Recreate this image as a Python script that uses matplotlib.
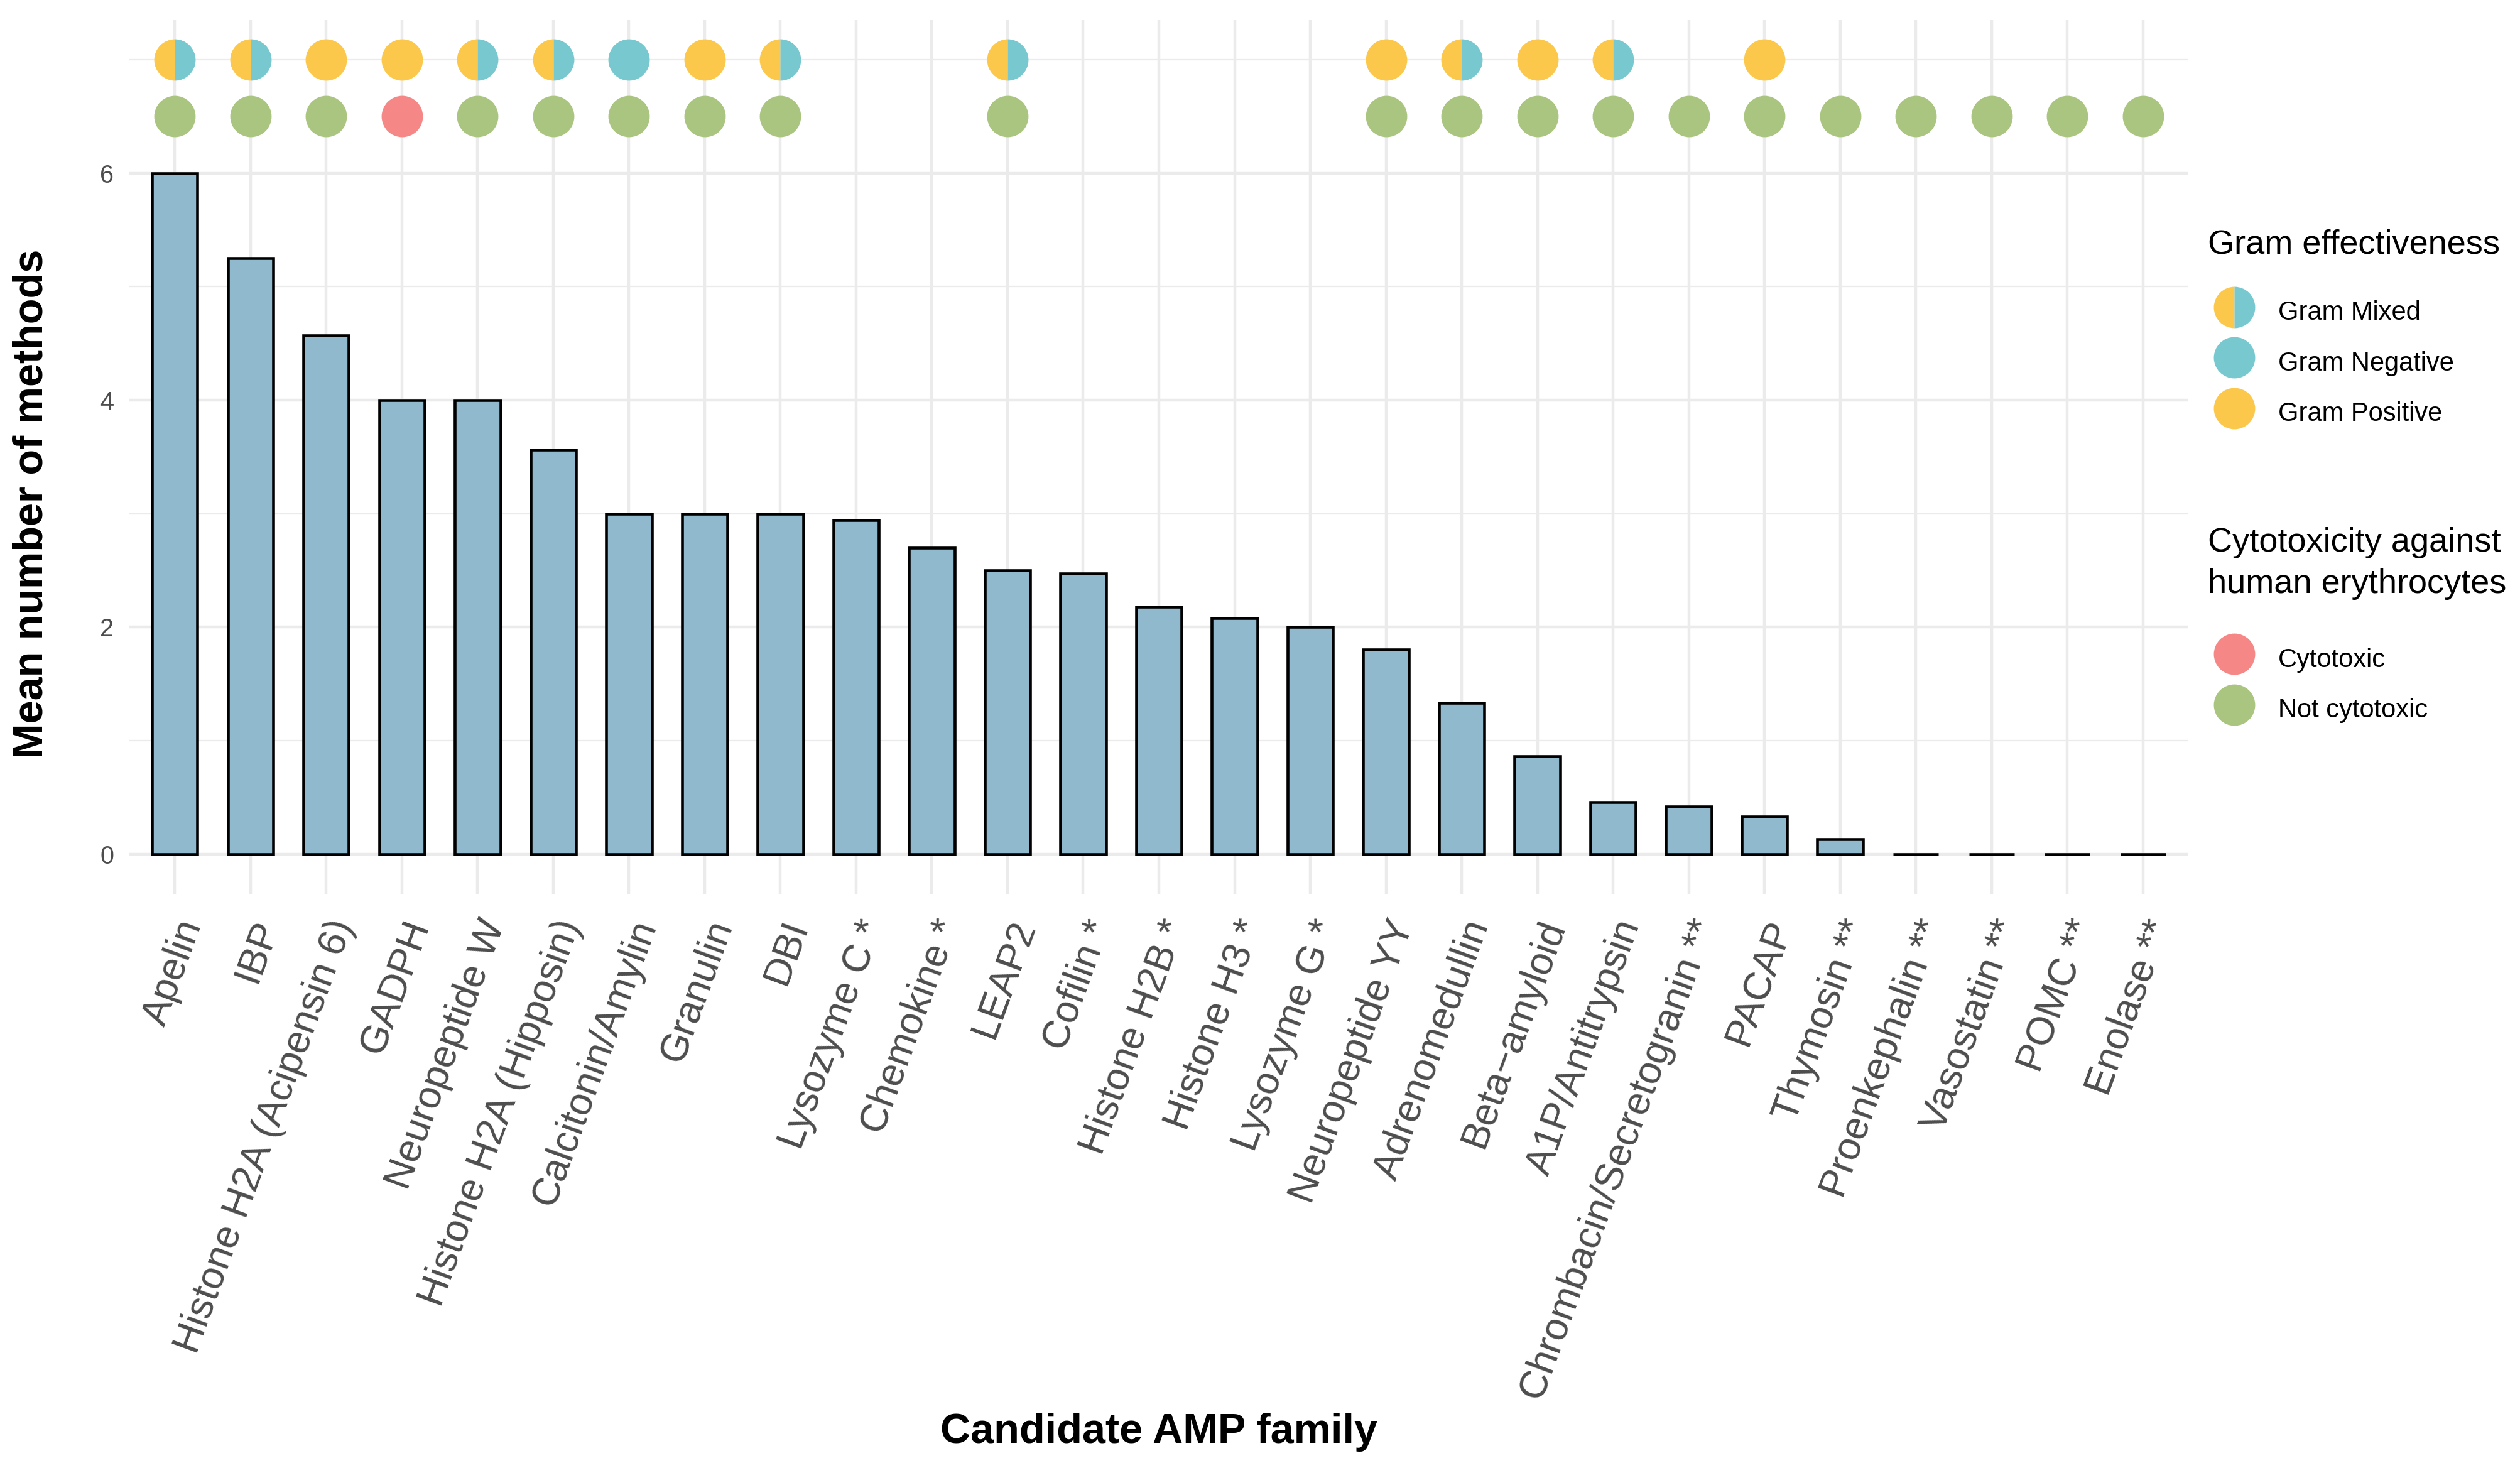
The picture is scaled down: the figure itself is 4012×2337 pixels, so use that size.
import matplotlib
matplotlib.use("Agg")
import matplotlib.pyplot as plt
from matplotlib.lines import Line2D

# candidate AMP families, ordered by mean number of methods
families = [
    "Apelin", "IBP", "Histone H2A (Acipensin 6)", "GADPH", "Neuropeptide W",
    "Histone H2A (Hipposin)", "Calcitonin/Amylin", "Granulin", "DBI",
    "Lysozyme C *", "Chemokine *", "LEAP2", "Cofilin *", "Histone H2B *",
    "Histone H3 *", "Lysozyme G *", "Neuropeptide YY", "Adrenomedullin",
    "Beta\u2212amyloid", "A1P/Antitrypsin", "Chrombacin/Secretogranin **",
    "PACAP", "Thymosin **", "Proenkephalin **", "Vasostatin **", "POMC **",
    "Enolase **",
]
mean_methods = [
    6.0, 5.25, 4.57, 4.0, 4.0, 3.56, 3.0, 3.0, 3.0, 2.94, 2.70, 2.50, 2.47,
    2.18, 2.08, 2.0, 1.80, 1.33, 0.86, 0.46, 0.42, 0.33, 0.13, 0.0, 0.0, 0.0,
    0.0,
]
# "" = no information
gram = [
    "Mixed", "Mixed", "Positive", "Positive", "Mixed", "Mixed", "Negative",
    "Positive", "Mixed", "", "", "Mixed", "", "", "", "", "Positive", "Mixed",
    "Positive", "Mixed", "", "Positive", "", "", "", "", "",
]
cytotox = [
    "Not cytotoxic", "Not cytotoxic", "Not cytotoxic", "Cytotoxic",
    "Not cytotoxic", "Not cytotoxic", "Not cytotoxic", "Not cytotoxic",
    "Not cytotoxic", "", "", "Not cytotoxic", "", "", "", "",
    "Not cytotoxic", "Not cytotoxic", "Not cytotoxic", "Not cytotoxic",
    "Not cytotoxic", "Not cytotoxic", "Not cytotoxic", "Not cytotoxic",
    "Not cytotoxic", "Not cytotoxic", "Not cytotoxic",
]
gram_row = 7.0
cyto_row = 6.5

bar_col = "#91B9CE"
yellow = "#FCC84C"
blue = "#78C8D0"
red = "#F58887"
green = "#AAC580"
grid_col = "#EBEBEB"
txt_grey = "#4D4D4D"
msize = 15.8

plt.rcParams['font.family'] = ['Liberation Sans', 'DejaVu Sans']

W, H = 4012, 2337
fig = plt.figure(figsize=(W / 300, H / 300), dpi=300)
# panel edges in pixels
pl, pr, pt, pb = 206, 3484, 31.6, 1423
ax = fig.add_axes([pl / W, 1 - pb / H, (pr - pl) / W, (pb - pt) / H])

x = list(range(len(families)))
ax.bar(x, mean_methods, width=0.6, color=bar_col, edgecolor="black",
       linewidth=1.1, zorder=3)

# top rows of dots
def idx_of(lst, val):
    return [i for i, v in enumerate(lst) if v == val]

styles_gram = {
    "Mixed": dict(markerfacecolor=yellow, markerfacecoloralt=blue, fillstyle="left"),
    "Negative": dict(markerfacecolor=blue),
    "Positive": dict(markerfacecolor=yellow),
}
styles_cyto = {
    "Cytotoxic": dict(markerfacecolor=red),
    "Not cytotoxic": dict(markerfacecolor=green),
}
for k, st in styles_gram.items():
    ii = idx_of(gram, k)
    ax.plot(ii, [gram_row] * len(ii), ls="", marker="o", ms=msize, mew=0,
            zorder=4, **st)
for k, st in styles_cyto.items():
    ii = idx_of(cytotox, k)
    ax.plot(ii, [cyto_row] * len(ii), ls="", marker="o", ms=msize, mew=0,
            zorder=4, **st)

ax.set_xlim(-0.6, len(families) - 0.4)
ax.set_ylim(-0.35, 7.35)
ax.set_yticks([0, 2, 4, 6])
ax.set_yticks([1, 3, 5, 7], minor=True)
ax.set_xticks(x)
ax.set_xticklabels(families, rotation=70, ha="right", va="top",
                   rotation_mode="anchor", fontsize=15, color=txt_grey)
ax.tick_params(axis="y", labelsize=9.5, labelcolor=txt_grey, pad=6)
ax.tick_params(axis="x", pad=8)
ax.tick_params(which="both", length=0)
ax.set_axisbelow(True)
ax.grid(which="major", color=grid_col, linewidth=1.07)
ax.grid(which="minor", axis="y", color=grid_col, linewidth=0.53)
for s in ax.spines.values():
    s.set_visible(False)

ax.set_xlabel("Candidate AMP family", fontsize=16, fontweight="bold")
ax.set_ylabel("Mean number of methods", fontsize=16, fontweight="bold")
ax.xaxis.set_label_coords(0.5, (pb - 2280) / (pb - pt))
ax.yaxis.set_label_coords((51 - pl) / (pr - pl), (pb - 802) / (pb - pt))
ax.xaxis.label.set_va("center")
ax.yaxis.label.set_va("center")


def handle(**st):
    return Line2D([], [], ls="", marker="o", ms=msize, mew=0, **st)


common = dict(loc="center left", frameon=False, borderpad=0, borderaxespad=0,
              prop={"size": 10}, handlelength=2.0, handletextpad=0.68,
              handleheight=1.6, labelspacing=0.64)
fig.text(3515 / W, 1 - 390 / H, "Gram effectiveness", fontsize=13,
         ha="left", va="center")
fig.legend([handle(**styles_gram[k]) for k in styles_gram],
           ["Gram " + k for k in styles_gram],
           bbox_to_anchor=(3515 / W, 1 - 576 / H), **common)
fig.text(3515 / W, 1 - 897 / H, "Cytotoxicity against\nhuman erythrocytes",
         fontsize=13, ha="left", va="center", linespacing=1.4)
fig.legend([handle(**styles_cyto[k]) for k in styles_cyto],
           list(styles_cyto),
           bbox_to_anchor=(3515 / W, 1 - 1088 / H), **common)

fig.savefig("out.png", dpi=300)
